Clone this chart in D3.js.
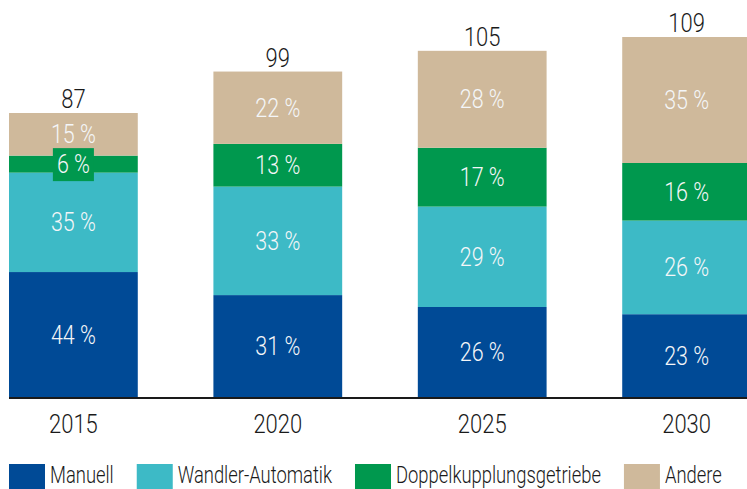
<!DOCTYPE html>
<html>
<head>
<meta charset="utf-8">
<script src="https://cdn.jsdelivr.net/npm/d3@7"></script>
<style>
  body { margin: 0; background: #fff; }
  svg { display: block; font-family: Roboto, "Liberation Sans", Arial, sans-serif; font-weight: 300; }
</style>
</head>
<body>
<div id="vis"></div>
<script>
//data
const YEARS = ["2015", "2020", "2025", "2030"];
const TOTALS = [87, 99, 105, 109];
const SERIES = ["Manuell", "Wandler-Automatik", "Doppelkupplungsgetriebe", "Andere"];
const MANUELL = [44, 31, 26, 23];
const WANDLER = [35, 33, 29, 26];
const DOPPEL = [6, 13, 17, 16];
const ANDERE = [15, 22, 28, 35];
const COLORS = ["#004a96", "#3dbac6", "#00984e", "#cfb99b"];

//frame
const FRAME_WIDTH = 747;
const FRAME_HEIGHT = 489;
const BASELINE = 397;
const TOP = 37;
const Y_MIN = 4.8; //axis does not start at zero in the original
const NUM_SQUEEZE = 0.88; //condensed look for numbers
const LEG_SQUEEZE = 0.8;  //condensed look for legend

const FRAME = d3.select("#vis")
  .append("svg")
  .attr("width", FRAME_WIDTH)
  .attr("height", FRAME_HEIGHT);

//table for stacking
const rows = YEARS.map((y, i) => ({
  year: y, total: TOTALS[i],
  "Manuell": MANUELL[i],
  "Wandler-Automatik": WANDLER[i],
  "Doppelkupplungsgetriebe": DOPPEL[i],
  "Andere": ANDERE[i]
}));

const stacked = d3.stack()
  .keys(SERIES)
  .offset(d3.stackOffsetExpand)(rows);

//scales
const X_SCALE = d3.scaleBand()
  .domain(YEARS)
  .range([9, 751])
  .paddingInner(0.37)
  .paddingOuter(0);

const Y_SCALE = d3.scaleLinear()
  .domain([Y_MIN, d3.max(TOTALS)])
  .range([BASELINE, TOP]);

const COLOR = d3.scaleOrdinal().domain(SERIES).range(COLORS);

//fraction of a bar -> pixel
function yPos(d, f) {
  return Y_SCALE(Y_MIN + f * (d.data.total - Y_MIN));
}

//text squeezed horizontally around its anchor
function squeezed(x, y, sx) {
  return FRAME.append("g")
    .attr("transform", "translate(" + x + "," + y + ") scale(" + sx + ",1)");
}

//bars
const layers = FRAME.selectAll(".layer")
  .data(stacked)
  .enter()
  .append("g")
  .attr("class", "layer")
  .attr("fill", (s) => COLOR(s.key));

layers.selectAll("rect")
  .data((s) => s)
  .enter()
  .append("rect")
  .attr("x", (d) => X_SCALE(d.data.year))
  .attr("width", X_SCALE.bandwidth())
  .attr("y", (d) => yPos(d, d[1]))
  .attr("height", (d) => yPos(d, d[0]) - yPos(d, d[1]));

//percentage labels
stacked.forEach((s) => {
  s.forEach((d) => {
    const cx = X_SCALE(d.data.year) + X_SCALE.bandwidth() / 2;
    const y0 = yPos(d, d[0]);
    const y1 = yPos(d, d[1]);
    const sx = 0.86;
    const g = squeezed(cx, (y0 + y1) / 2, sx);
    const t = g.append("text")
      .attr("dy", "0.36em")
      .attr("text-anchor", "middle")
      .attr("font-size", "25px")
      .attr("fill", "#f4f6f8")
      .text(d.data[s.key] + " %");
    //small segments get a box in their own colour
    if (y0 - y1 < 26) {
      const bb = t.node().getBBox();
      g.insert("rect", "text")
        .attr("x", bb.x - 4 / sx)
        .attr("y", -16)
        .attr("width", bb.width + 8 / sx)
        .attr("height", 33)
        .attr("fill", COLOR(s.key));
    }
  });
});

//totals
rows.forEach((d) => {
  squeezed(X_SCALE(d.year) + X_SCALE.bandwidth() / 2, Y_SCALE(d.total) - 5, NUM_SQUEEZE)
    .append("text")
    .attr("text-anchor", "middle")
    .attr("font-size", "25px")
    .attr("fill", "#1a1a1a")
    .text(d.total);
});

//baseline
FRAME.append("line")
  .attr("x1", 9)
  .attr("x2", FRAME_WIDTH)
  .attr("y1", BASELINE + 1)
  .attr("y2", BASELINE + 1)
  .attr("stroke", "#1a1a1a")
  .attr("stroke-width", 2);

//year labels
YEARS.forEach((y) => {
  squeezed(X_SCALE(y) + X_SCALE.bandwidth() / 2, BASELINE + 36, NUM_SQUEEZE)
    .append("text")
    .attr("text-anchor", "middle")
    .attr("font-size", "25px")
    .attr("fill", "#1a1a1a")
    .text(y);
});

//legend
let lx = 9;
SERIES.forEach((s) => {
  FRAME.append("rect")
    .attr("x", lx)
    .attr("y", 464)
    .attr("width", 36)
    .attr("height", 25)
    .attr("fill", COLOR(s));
  const t = squeezed(lx + 41, 483, LEG_SQUEEZE)
    .append("text")
    .attr("font-size", "23px")
    .attr("fill", "#1a1a1a")
    .text(s);
  lx += 41 + t.node().getComputedTextLength() * LEG_SQUEEZE + 23;
});
</script>
</body>
</html>
